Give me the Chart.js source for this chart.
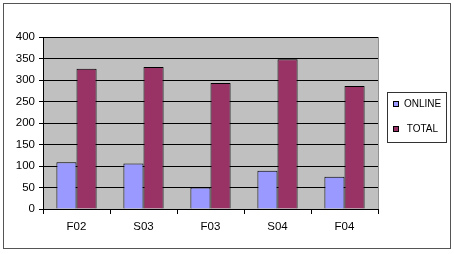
<!DOCTYPE html>
<html>
<head>
<meta charset="utf-8">
<script src="https://cdn.jsdelivr.net/npm/chart.js@4"></script>
<style>
  html, body { margin: 0; padding: 0; background: #fff; }
  canvas { display: block; }
</style>
</head>
<body>
<canvas id="enrollChart" width="454" height="254"></canvas>
<script>
// data
const categories = ['F02', 'S03', 'F03', 'S04', 'F04'];
const onlineValues = [109, 106, 50, 89, 75];
const totalValues = [326, 330, 293, 348, 286];
const seriesNames = ['ONLINE', ' TOTAL'];
const yMin = 0, yMax = 400, yStep = 50;

const FONT = "'Liberation Sans', Arial, sans-serif";

// grey plot area, outer frame and the boxed legend on the right
const framePlugin = {
    id: 'frame',
    beforeDraw(chart) {
        const { ctx, chartArea: a } = chart;
        ctx.save();
        ctx.fillStyle = '#fff';
        ctx.fillRect(0, 0, chart.width, chart.height);
        ctx.fillStyle = '#c0c0c0';
        ctx.fillRect(a.left, a.top, a.right - a.left, a.bottom - a.top);
        ctx.restore();
    },
    afterDraw(chart) {
        const { ctx, chartArea: a } = chart;
        ctx.save();
        // right edge of plot
        ctx.strokeStyle = '#909090';
        ctx.lineWidth = 1;
        ctx.beginPath();
        ctx.moveTo(Math.round(a.right) + 0.5, a.top);
        ctx.lineTo(Math.round(a.right) + 0.5, a.bottom);
        ctx.stroke();

        // outer border
        ctx.strokeStyle = '#555';
        ctx.strokeRect(3.5, 3.5, 447, 245);

        // legend box
        const lx = 387, ly = 92, lw = 59, lh = 50;
        ctx.fillStyle = '#fff';
        ctx.fillRect(lx, ly, lw, lh);
        ctx.strokeStyle = '#333';
        ctx.strokeRect(lx + 0.5, ly + 0.5, lw, lh);

        ctx.beginPath();
        ctx.rect(lx + 1, ly + 1, lw - 2, lh - 2);
        ctx.clip();
        ctx.font = '10px ' + FONT;
        ctx.textBaseline = 'middle';
        chart.data.datasets.forEach((ds, i) => {
            const cy = ly + 12 + i * 25;
            ctx.fillStyle = ds.backgroundColor;
            ctx.fillRect(lx + 6, cy - 3, 6, 6);
            ctx.strokeStyle = '#000';
            ctx.strokeRect(lx + 6.5, cy - 2.5, 5, 5);
            ctx.fillStyle = '#000';
            ctx.fillText(ds.label, lx + 17, cy);
        });
        ctx.restore();
    }
};

const ctx = document.getElementById('enrollChart').getContext('2d');
new Chart(ctx, {
    type: 'bar',
    data: {
        labels: categories,
        datasets: [
            {
                label: seriesNames[0],
                data: onlineValues,
                backgroundColor: '#9999ff',
                borderColor: '#000',
                borderWidth: 1
            },
            {
                label: seriesNames[1],
                data: totalValues,
                backgroundColor: '#993366',
                borderColor: '#000',
                borderWidth: 1
            }
        ]
    },
    options: {
        responsive: false,
        animation: false,
        layout: { padding: { top: 37, right: 76, left: 0, bottom: 0 } },
        datasets: { bar: { categoryPercentage: 0.6, barPercentage: 1.0 } },
        plugins: {
            legend: { display: false },
            tooltip: { enabled: false }
        },
        scales: {
            x: {
                afterFit(scale) { scale.height = 45; },
                grid: {
                    offset: true,
                    drawOnChartArea: false,
                    drawTicks: true,
                    tickLength: 5,
                    color: '#000'
                },
                border: { color: '#000' },
                ticks: {
                    color: '#000',
                    padding: 6,
                    font: { family: FONT, size: 11.5 }
                }
            },
            y: {
                min: yMin,
                max: yMax,
                afterFit(scale) { scale.width = 43; },
                grid: {
                    color: '#000',
                    tickLength: 4
                },
                border: { color: '#000' },
                ticks: {
                    stepSize: yStep,
                    color: '#000',
                    padding: 4,
                    font: { family: FONT, size: 11.5 }
                }
            }
        }
    },
    plugins: [framePlugin]
});
</script>
</body>
</html>
